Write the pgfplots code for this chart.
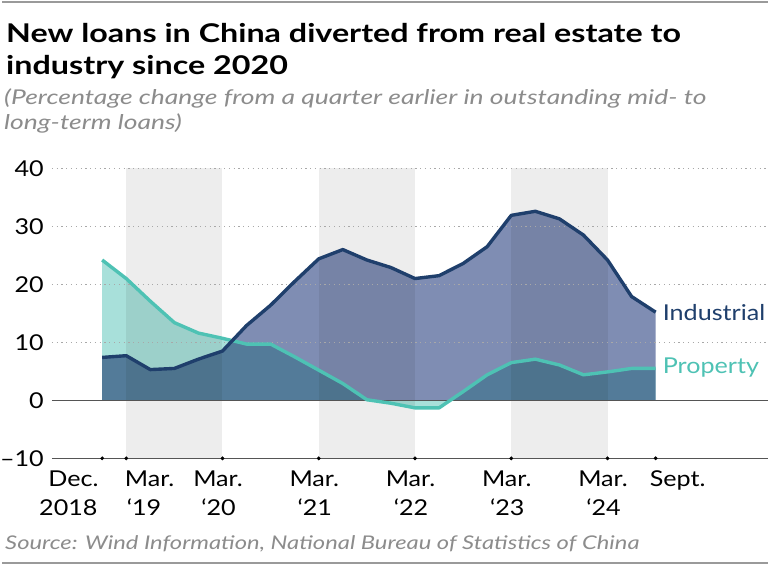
\documentclass[border=0pt]{standalone}
\usepackage{pgfplots}
\usepackage{pgfplotstable}
\pgfplotsset{compat=1.18}
\usepackage{fontspec}
\setmainfont{Lato}
\newfontfamily\tickfamily{Lato}[FakeStretch=1.15]
\newfontfamily\titlefamily{Lato}[FakeStretch=1.25]
\newfontfamily\subfamily{Lato}[FakeStretch=1.30]
\newfontfamily\srcfamily{Lato}[FakeStretch=1.26]

\definecolor{indline}{HTML}{1F3F6C}
\definecolor{propline}{HTML}{4EC2B4}
\definecolor{indfill}{HTML}{7F8DB3}
\definecolor{propfill}{HTML}{A8E0DA}
\definecolor{band}{HTML}{EDEDED}
\definecolor{rule}{HTML}{9A9A9A}
\definecolor{grid}{HTML}{A8A8A8}
\definecolor{axisline}{HTML}{555555}
\definecolor{note}{HTML}{8C8C8C}

% quarterly change in outstanding mid- to long-term loans, Dec. 2018 (q=0) to Sept. 2024 (q=23)
\pgfplotstableread{
q  ind   prop
0  7.4   24.2
1  7.7   21.0
2  5.3   17.1
3  5.5   13.4
4  7.1   11.6
5  8.5   10.7
6  12.9  9.7
7  16.4  9.7
8  20.5  7.5
9  24.4  5.2
10 26.0  2.9
11 24.2  0.1
12 22.9  -0.5
13 21.0  -1.3
14 21.5  -1.3
15 23.6  1.5
16 26.5  4.4
17 31.9  6.5
18 32.6  7.1
19 31.3  6.1
20 28.5  4.4
21 24.2  4.9
22 17.9  5.5
23 15.2  5.5
}\loans

\newcommand\ticklabfont{\tickfamily\fontsize{22}{29}\selectfont}

\begin{document}
\begin{tikzpicture}[x=1bp,y=1bp]
\fill[white] (0,0) rectangle (769,568);

% frame rules
\draw[rule, line width=1.5bp] (0,566) -- (769,566);
\draw[rule, line width=1.5bp] (0,3) -- (769,3);

% title block
\node[overlay, anchor=base west, inner sep=0pt, font=\titlefamily\bfseries\fontsize{26}{32}\selectfont] at (4,525) {New loans in China diverted from real estate to};
\node[overlay, anchor=base west, inner sep=0pt, font=\titlefamily\bfseries\fontsize{26}{32}\selectfont] at (4,493) {industry since 2020};
\node[overlay, anchor=base west, inner sep=0pt, text=note, font=\subfamily\itshape\fontsize{20.5}{26}\selectfont] at (2,463) {(Percentage change from a quarter earlier in outstanding mid- to};
\node[overlay, anchor=base west, inner sep=0pt, text=note, font=\subfamily\itshape\fontsize{20.5}{26}\selectfont] at (2,438) {long-term loans)};

\begin{axis}[
  at={(50bp,108bp)}, anchor=south west,
  scale only axis, width=719bp, height=291bp,
  xmin=-2.09, xmax=27.68, ymin=-10, ymax=40,
  clip=false,
  axis line style={draw=none},
  major tick length=0pt,
  xtick=\empty,
  ytick={-10,0,10,20,30,40},
  yticklabels={–10,0,10,20,30,40},
  yticklabel style={anchor=east, inner sep=0pt, xshift=-8bp, font=\ticklabfont},
]
% shaded years
\fill[band] (axis cs:1,-10) rectangle (axis cs:5,40);
\fill[band] (axis cs:9,-10) rectangle (axis cs:13,40);
\fill[band] (axis cs:17,-10) rectangle (axis cs:21,40);

% areas; multiplied so the shared part comes out darker
\addplot[draw=none, fill=propfill, blend mode=multiply] table[x=q, y=prop] {\loans} \closedcycle;
\addplot[draw=none, fill=indfill, blend mode=multiply] table[x=q, y=ind] {\loans} \closedcycle;

% grid
\foreach \g in {10,20,30,40}{
  \edef\tmp{\noexpand\draw[grid, line width=1.2bp, dash pattern=on 1.2bp off 3.6bp] (axis cs:-2.09,\g) -- (axis cs:27.68,\g);}
  \tmp
}
\draw[axisline, line width=1.3bp] (axis cs:-2.09,0) -- (axis cs:27.68,0);
\draw[axisline, line width=1.3bp] (axis cs:-2.09,-10) -- (axis cs:27.68,-10);

% lines
\addplot[propline, line width=3.4bp, line join=round] table[x=q, y=prop] {\loans};
\addplot[indline, line width=3.4bp, line join=round] table[x=q, y=ind] {\loans};

% tick dots
\addplot[only marks, mark=*, mark size=1.7bp, black] coordinates {(0,-10) (1,-10) (5,-10) (9,-10) (13,-10) (17,-10) (21,-10) (23,-10)};
\end{axis}

% series labels
\node[overlay, anchor=base west, inner sep=0pt, text=indline, font=\ticklabfont] at (663,246) {Industrial};
\node[overlay, anchor=base west, inner sep=0pt, text=propline, font=\ticklabfont] at (663,193) {Property};

% date labels
\node[overlay, anchor=base east, inner sep=0pt, font=\ticklabfont] at (97,80) {Dec.};
\node[overlay, anchor=base east, inner sep=0pt, font=\ticklabfont] at (96,51) {2018};
\node[overlay, anchor=base west, inner sep=0pt, font=\ticklabfont] at (123,80) {Mar.};
\node[overlay, anchor=base west, inner sep=0pt, font=\ticklabfont] at (125,51) {‘19};
\foreach \xx/\yy in {221.25/20, 317.85/21, 414.45/22, 511.05/23, 607.65/24}{
  \node[overlay, anchor=base, inner sep=0pt, font=\ticklabfont] at (\xx-4.5,80) {Mar.};
  \node[overlay, anchor=base, inner sep=0pt, font=\ticklabfont] at (\xx-4,51) {‘\yy};
}
\node[overlay, anchor=base west, inner sep=0pt, font=\ticklabfont] at (650,80) {Sept.};

% source
\node[overlay, anchor=base west, inner sep=0pt, text=note, font=\srcfamily\itshape\fontsize{19}{24}\selectfont] at (3,16) {Source: Wind Information, National Bureau of Statistics of China};
\end{tikzpicture}
\end{document}
